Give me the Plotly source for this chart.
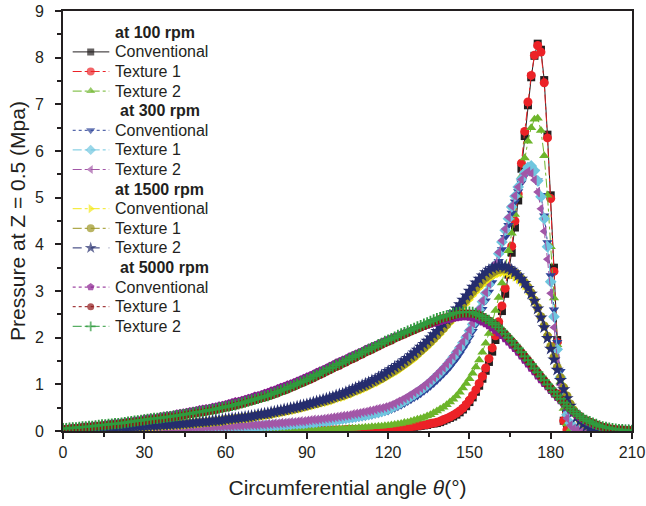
import plotly.graph_objects as go

# ---------------- data ----------------
angle = [round(1.2 * i, 1) for i in range(176)]  # circumferential angle grid (deg)

speed_labels = ["at 100 rpm", "at 300 rpm", "at 1500 rpm", "at 5000 rpm"]
surface_labels = ["Conventional", "Texture 1", "Texture 2"]

p100_conv = [0,0,0,0,0,0,0,0,0,0,0,0,0,0,0,0,0,0,0,0,0,0,0,0,0,
             0,0,0,0,0,0,0,0,0,0,0,0,0,0,0,0,0,0,0,0,0,0,0,0,0,
             0,0,0,0,0,0,0,0,0,0,0,0,0,0,0,0,0,0,0,0,.01,.01,.01,.01,.01,
             .01,.01,.01,.01,.01,.01,.02,.02,.02,.02,.02,.02,.02,.03,.03,.03,.03,.03,.03,.04,.04,.04,.04,.04,.05,
             .05,.05,.06,.06,.07,.07,.08,.09,.09,.10,.11,.12,.13,.15,.16,.17,.19,.22,.25,.28,.31,.35,.40,.46,.53,
             .62,.72,.84,.97,1.12,1.29,1.48,1.70,1.95,2.24,2.57,2.94,3.35,3.82,4.36,4.94,5.62,6.32,6.98,7.58,8.04,8.30,8.17,7.52,6.35,
             5.05,3.50,1.95,.80,.22,.03,0,0,0,0,0,0,0,0,0,0,0,0,0,0,0,0,0,0,0,0]
p100_tex1 = [0,0,0,0,0,0,0,0,0,0,0,0,0,0,0,0,0,0,0,0,0,0,0,0,0,
             0,0,0,0,0,0,0,0,0,0,0,0,0,0,0,0,0,0,0,0,0,0,0,0,0,
             0,0,0,0,0,0,0,0,0,0,0,0,0,0,0,0,0,0,0,.01,.01,.01,.01,.01,.01,
             .01,.01,.01,.01,.01,.02,.02,.02,.02,.02,.02,.02,.03,.03,.03,.03,.03,.04,.04,.04,.04,.05,.05,.05,.05,
             .06,.06,.06,.07,.07,.08,.09,.09,.10,.11,.12,.13,.14,.16,.17,.19,.21,.24,.27,.30,.34,.38,.43,.49,.57,
             .66,.76,.88,1.02,1.17,1.35,1.55,1.78,2.04,2.34,2.68,3.06,3.48,3.96,4.50,5.08,5.74,6.42,7.05,7.62,8.05,8.26,8.12,7.46,6.28,
             4.98,3.42,1.90,.78,.22,.03,0,0,0,0,0,0,0,0,0,0,0,0,0,0,0,0,0,0,0,0]
p100_tex2 = [0,0,0,0,0,0,0,0,0,0,0,0,0,0,0,0,0,0,0,0,0,0,0,0,0,
             0,0,0,0,0,0,0,0,0,0,0,0,0,0,0,0,0,0,0,0,.01,.01,.01,.01,.01,
             .01,.01,.01,.01,.01,.01,.01,.01,.01,.01,.01,.01,.01,.01,.01,.02,.02,.02,.02,.02,.02,.02,.02,.02,.02,
             .02,.02,.03,.03,.03,.03,.04,.04,.04,.04,.05,.05,.05,.06,.06,.06,.07,.07,.08,.08,.09,.09,.10,.10,.11,
             .12,.13,.14,.15,.16,.18,.19,.21,.23,.25,.27,.29,.32,.35,.39,.43,.47,.51,.56,.62,.68,.75,.83,.92,1.02,
             1.12,1.24,1.37,1.52,1.69,1.88,2.09,2.32,2.58,2.86,3.17,3.50,3.86,4.24,4.64,5.05,5.46,5.85,6.21,6.50,6.68,6.70,6.44,5.90,5.05,
             3.95,2.85,1.85,1.05,.48,.15,.03,0,0,0,0,0,0,0,0,0,0,0,0,0,0,0,0,0,0,0]

p300_conv = [.01,.01,.01,.01,.01,.01,.01,.01,.01,.01,.01,.01,.01,.01,.01,.02,.02,.02,.02,.02,.02,.02,.02,.02,.02,
             .02,.02,.03,.03,.03,.03,.03,.03,.03,.03,.04,.04,.04,.04,.04,.04,.04,.05,.05,.05,.05,.05,.05,.06,.06,
             .06,.06,.07,.07,.07,.07,.08,.08,.08,.08,.09,.09,.09,.10,.10,.11,.11,.11,.12,.12,.13,.13,.14,.14,.15,
             .15,.16,.17,.17,.18,.19,.19,.20,.21,.22,.23,.24,.25,.26,.27,.28,.29,.30,.31,.33,.34,.36,.37,.39,.41,
             .43,.46,.49,.52,.55,.59,.63,.67,.71,.75,.80,.85,.90,.96,1.02,1.08,1.15,1.22,1.29,1.37,1.46,1.55,1.65,1.76,1.87,
             2.00,2.14,2.28,2.44,2.61,2.79,2.98,3.18,3.40,3.64,3.89,4.15,4.41,4.67,4.91,5.13,5.32,5.47,5.58,5.62,5.55,5.36,5.05,4.61,4.04,
             3.33,2.60,1.90,1.28,.78,.41,.19,.08,.03,.01,0,0,0,0,0,0,0,0,0,0,0,0,0,0,0,0]
p300_tex1 = [.01,.01,.01,.01,.01,.01,.01,.01,.01,.01,.02,.02,.02,.02,.02,.02,.02,.02,.02,.02,.02,.03,.03,.03,.03,
             .03,.03,.03,.03,.03,.04,.04,.04,.04,.04,.04,.04,.05,.05,.05,.05,.05,.06,.06,.06,.06,.06,.07,.07,.07,
             .07,.07,.08,.08,.08,.08,.09,.09,.09,.09,.10,.10,.11,.11,.11,.12,.12,.13,.13,.14,.14,.15,.15,.16,.16,
             .17,.18,.18,.19,.20,.21,.21,.22,.23,.24,.25,.26,.27,.28,.29,.30,.32,.33,.34,.35,.37,.39,.40,.42,.44,
             .47,.50,.54,.57,.61,.65,.69,.74,.78,.83,.88,.93,.99,1.05,1.12,1.18,1.25,1.33,1.40,1.49,1.58,1.68,1.78,1.89,2.01,
             2.15,2.29,2.44,2.60,2.77,2.95,3.14,3.34,3.56,3.80,4.05,4.30,4.55,4.80,5.03,5.23,5.40,5.54,5.65,5.68,5.58,5.36,5.02,4.55,3.95,
             3.20,2.45,1.75,1.15,.68,.35,.17,.08,.04,.02,.01,0,0,0,0,0,0,0,0,0,0,0,0,0,0,0]
p300_tex2 = [.01,.01,.01,.01,.01,.01,.01,.02,.02,.02,.02,.02,.02,.02,.02,.02,.03,.03,.03,.03,.03,.03,.03,.03,.04,
             .04,.04,.04,.04,.04,.05,.05,.05,.05,.05,.06,.06,.06,.06,.06,.07,.07,.07,.07,.08,.08,.08,.09,.09,.09,
             .10,.10,.10,.11,.11,.11,.12,.12,.13,.13,.13,.14,.14,.15,.15,.16,.16,.17,.17,.18,.19,.19,.20,.21,.21,
             .22,.23,.24,.24,.25,.26,.27,.28,.29,.30,.31,.32,.33,.34,.36,.37,.38,.40,.41,.43,.44,.46,.48,.49,.51,
             .53,.56,.59,.63,.66,.70,.74,.78,.83,.87,.92,.97,1.03,1.09,1.15,1.22,1.29,1.36,1.44,1.52,1.61,1.71,1.81,1.92,2.04,
             2.17,2.31,2.46,2.62,2.79,2.97,3.16,3.37,3.59,3.83,4.08,4.33,4.58,4.82,5.04,5.23,5.39,5.51,5.56,5.52,5.38,5.12,4.76,4.28,3.68,
             2.95,2.22,1.55,.99,.56,.27,.12,.05,.02,.01,0,0,0,0,0,0,0,0,0,0,0,0,0,0,0,0]

p1500_conv = [.02,.02,.02,.03,.03,.03,.03,.04,.04,.04,.04,.05,.05,.05,.06,.06,.06,.07,.07,.07,.07,.08,.08,.08,.09,
              .09,.10,.10,.10,.11,.11,.11,.12,.12,.13,.13,.13,.14,.14,.15,.16,.16,.17,.17,.18,.19,.19,.20,.21,.21,
              .23,.23,.24,.25,.26,.27,.27,.28,.29,.30,.32,.32,.33,.34,.35,.37,.38,.39,.41,.42,.44,.45,.47,.48,.50,
              .52,.54,.55,.57,.59,.61,.62,.64,.66,.69,.71,.73,.75,.78,.80,.84,.86,.89,.92,.95,.99,1.02,1.05,1.09,1.13,
              1.17,1.21,1.25,1.29,1.34,1.39,1.44,1.49,1.54,1.60,1.67,1.73,1.79,1.86,1.93,2.00,2.07,2.15,2.23,2.31,2.38,2.47,2.55,2.64,2.72,
              2.81,2.90,2.98,3.06,3.13,3.20,3.26,3.31,3.35,3.38,3.40,3.40,3.38,3.35,3.31,3.26,3.20,3.12,3.02,2.92,2.79,2.63,2.47,2.27,2.06,
              1.83,1.60,1.38,1.16,.95,.77,.60,.47,.35,.25,.18,.13,.09,.06,.04,.02,.01,.01,0,0,0,0,0,0,0,0]
p1500_tex1 = [.02,.02,.03,.03,.03,.04,.04,.04,.04,.05,.05,.05,.06,.06,.06,.06,.07,.07,.07,.08,.08,.08,.09,.09,.09,
              .10,.10,.11,.11,.11,.12,.12,.13,.13,.13,.14,.14,.15,.15,.16,.16,.17,.17,.18,.18,.19,.20,.20,.21,.22,
              .24,.24,.25,.26,.27,.28,.28,.29,.30,.31,.33,.34,.35,.36,.37,.39,.40,.41,.43,.44,.46,.47,.49,.50,.52,
              .54,.56,.58,.59,.61,.63,.65,.67,.69,.72,.74,.76,.79,.81,.84,.87,.90,.93,.96,.99,1.03,1.06,1.10,1.13,1.17,
              1.22,1.26,1.30,1.35,1.39,1.44,1.49,1.55,1.60,1.66,1.72,1.78,1.85,1.91,1.98,2.05,2.13,2.20,2.28,2.37,2.46,2.54,2.63,2.72,2.81,
              2.90,2.99,3.07,3.15,3.23,3.29,3.34,3.39,3.43,3.46,3.47,3.47,3.46,3.43,3.39,3.33,3.26,3.18,3.08,2.96,2.80,2.64,2.45,2.25,2.03,
              1.81,1.58,1.36,1.14,.93,.75,.58,.45,.34,.24,.17,.12,.08,.05,.03,.02,.01,.01,0,0,0,0,0,0,0,0]
p1500_tex2 = [.03,.03,.03,.04,.04,.04,.04,.05,.05,.05,.05,.06,.06,.06,.07,.07,.07,.08,.08,.08,.09,.09,.09,.10,.10,
              .11,.11,.12,.12,.12,.13,.13,.14,.14,.15,.15,.16,.16,.17,.17,.18,.19,.19,.20,.20,.21,.22,.23,.23,.24,
              .25,.26,.27,.27,.28,.29,.30,.31,.32,.33,.35,.36,.37,.38,.40,.41,.43,.44,.46,.47,.49,.50,.52,.54,.55,
              .57,.59,.61,.63,.65,.67,.69,.71,.73,.76,.78,.80,.83,.86,.89,.92,.95,.98,1.01,1.04,1.08,1.11,1.15,1.19,1.23,
              1.28,1.32,1.37,1.41,1.46,1.51,1.56,1.62,1.68,1.74,1.80,1.86,1.93,2.00,2.07,2.14,2.22,2.30,2.38,2.46,2.54,2.62,2.71,2.81,2.90,
              3.00,3.09,3.18,3.26,3.33,3.40,3.45,3.49,3.52,3.54,3.54,3.52,3.49,3.45,3.40,3.33,3.26,3.17,3.06,2.94,2.79,2.62,2.43,2.22,1.99,
              1.76,1.53,1.31,1.09,.89,.70,.54,.41,.30,.21,.15,.10,.07,.05,.03,.02,.01,.01,0,0,0,0,0,0,0,0]

p5000_conv = [.05,.05,.06,.07,.07,.08,.09,.10,.10,.11,.12,.12,.13,.14,.15,.16,.17,.17,.18,.19,.20,.21,.22,.23,.24,
              .26,.27,.28,.28,.29,.31,.32,.33,.34,.35,.37,.38,.39,.40,.42,.43,.44,.46,.47,.48,.49,.51,.52,.54,.55,
              .57,.59,.61,.63,.64,.66,.68,.70,.72,.75,.76,.78,.81,.83,.86,.88,.91,.94,.96,.99,1.01,1.04,1.07,1.10,1.13,
              1.16,1.19,1.22,1.26,1.29,1.32,1.35,1.39,1.42,1.46,1.49,1.52,1.55,1.59,1.62,1.65,1.68,1.71,1.75,1.78,1.81,1.84,1.87,1.90,1.93,
              1.96,1.99,2.02,2.04,2.07,2.10,2.12,2.15,2.17,2.20,2.22,2.24,2.27,2.29,2.31,2.33,2.35,2.37,2.39,2.40,2.42,2.43,2.44,2.45,2.45,
              2.44,2.43,2.41,2.38,2.34,2.30,2.26,2.21,2.16,2.11,2.05,1.98,1.91,1.84,1.77,1.69,1.61,1.52,1.44,1.35,1.27,1.18,1.10,1.02,.95,
              .87,.79,.72,.65,.58,.51,.45,.39,.34,.29,.25,.21,.18,.15,.12,.10,.08,.07,.05,.04,.03,.03,.02,.02,.01,.01]
p5000_tex1 = [.04,.04,.05,.06,.06,.07,.08,.08,.09,.09,.10,.11,.12,.12,.13,.14,.14,.15,.16,.17,.18,.19,.19,.20,.21,
              .22,.23,.24,.25,.26,.27,.28,.29,.30,.30,.31,.32,.33,.35,.36,.37,.38,.39,.40,.41,.43,.44,.45,.47,.48,
              .50,.51,.53,.54,.56,.58,.60,.62,.64,.66,.68,.70,.72,.74,.76,.79,.81,.84,.86,.89,.92,.95,.98,1.01,1.04,
              1.07,1.10,1.13,1.17,1.20,1.23,1.27,1.30,1.34,1.37,1.40,1.44,1.47,1.51,1.54,1.57,1.61,1.64,1.68,1.71,1.74,1.78,1.81,1.85,1.88,
              1.91,1.94,1.98,2.01,2.04,2.07,2.10,2.13,2.16,2.19,2.22,2.25,2.28,2.31,2.34,2.37,2.40,2.42,2.44,2.46,2.48,2.50,2.51,2.52,2.52,
              2.52,2.51,2.50,2.48,2.45,2.41,2.37,2.32,2.28,2.22,2.15,2.08,2.00,1.93,1.85,1.77,1.69,1.60,1.52,1.43,1.34,1.26,1.17,1.09,1.00,
              .92,.84,.76,.69,.61,.54,.48,.42,.37,.32,.27,.23,.20,.17,.14,.11,.09,.08,.06,.05,.04,.03,.03,.02,.02,.01]
p5000_tex2 = [.05,.05,.06,.07,.07,.08,.09,.09,.10,.10,.11,.12,.13,.13,.14,.15,.16,.16,.17,.18,.19,.20,.21,.22,.23,
              .24,.25,.26,.27,.27,.28,.29,.30,.31,.32,.33,.34,.35,.36,.37,.39,.40,.41,.42,.43,.45,.46,.47,.49,.50,
              .52,.53,.55,.56,.58,.60,.62,.64,.66,.68,.70,.72,.74,.76,.79,.81,.84,.87,.89,.92,.95,.98,1.01,1.04,1.07,
              1.10,1.13,1.17,1.20,1.24,1.27,1.30,1.34,1.37,1.41,1.44,1.47,1.51,1.54,1.58,1.61,1.64,1.68,1.71,1.75,1.78,1.81,1.85,1.88,1.92,
              1.95,1.98,2.01,2.05,2.08,2.11,2.14,2.17,2.20,2.23,2.26,2.29,2.32,2.35,2.38,2.41,2.43,2.45,2.47,2.49,2.52,2.53,2.54,2.55,2.55,
              2.55,2.54,2.51,2.48,2.45,2.41,2.37,2.32,2.28,2.22,2.15,2.08,2.00,1.93,1.85,1.77,1.69,1.60,1.52,1.43,1.34,1.26,1.17,1.09,1.00,
              .92,.84,.76,.69,.61,.54,.48,.42,.37,.32,.27,.23,.20,.17,.14,.11,.09,.08,.06,.05,.04,.03,.03,.02,.02,.01]

x_ticks = [0, 30, 60, 90, 120, 150, 180, 210]
y_ticks = [0, 1, 2, 3, 4, 5, 6, 7, 8, 9]

# ---------------- styles ----------------
FONT = "Liberation Sans, Arial, Helvetica, sans-serif"
INK = "#231f20"

groups = [
    (speed_labels[0], [
        (surface_labels[0], p100_conv, "#231f20", "square", "solid", 8),
        (surface_labels[1], p100_tex1, "#ec2227", "circle", "dashdot", 9),
        (surface_labels[2], p100_tex2, "#6db52b", "triangle-up", "dashdot", 9),
    ]),
    (speed_labels[1], [
        (surface_labels[0], p300_conv, "#2e4498", "triangle-down", "dot", 9),
        (surface_labels[1], p300_tex1, "#6fc6df", "diamond", "dashdot", 9),
        (surface_labels[2], p300_tex2, "#a257a7", "triangle-left", "dashdot", 9),
    ]),
    (speed_labels[2], [
        (surface_labels[0], p1500_conv, "#f3e81b", "triangle-right", "dashdot", 9),
        (surface_labels[1], p1500_tex1, "#9b9421", "circle", "dashdot", 9),
        (surface_labels[2], p1500_tex2, "#252d6e", "star", "dash", 10),
    ]),
    (speed_labels[3], [
        (surface_labels[0], p5000_conv, "#871a8d", "pentagon", "dot", 9),
        (surface_labels[1], p5000_tex1, "#8f1214", "circle", "dot", 8),
        (surface_labels[2], p5000_tex2, "#2f9b3e", "cross-thin", "dashdot", 8),
    ]),
]

for _, items in groups:
    for _, vals, *_ in items:
        assert len(vals) == len(angle), len(vals)


def marker_for(sym, size, color):
    m = dict(symbol=sym, size=size, color=color, line=dict(width=0))
    if sym == "cross-thin":
        m["line"] = dict(width=1.8, color=color)
    return m


fig = go.Figure()

for _, items in groups:
    for name, vals, color, sym, dash, size in items:
        fig.add_trace(go.Scatter(
            x=angle, y=vals, mode="lines+markers", name=name,
            line=dict(color=color, width=1, dash=dash),
            marker=marker_for(sym, size, color),
            showlegend=False, hoverinfo="skip"))

# ---------------- hand-built legend on an invisible helper axis ----------------
row_top, row_step = 21.3, 19.6
title_x = [50.3, 55.0, 50.3, 55.0]
line_x = [9.7, 27.7, 46.3]
text_x = 50.3
row = 0
for gi, (title, items) in enumerate(groups):
    yy = row_top + row_step * row
    fig.add_annotation(x=title_x[gi], y=yy, xref="x2", yref="y2", text="<b>" + title + "</b>",
                       showarrow=False, xanchor="left", yanchor="middle",
                       font=dict(family=FONT, size=16, color=INK))
    row += 1
    for name, vals, color, sym, dash, size in items:
        yy = row_top + row_step * row
        m = marker_for(sym, size - 1, color)
        m["size"] = [0, size - 1, 0]
        fig.add_trace(go.Scatter(
            x=line_x, y=[yy, yy, yy], xaxis="x2", yaxis="y2", mode="lines+markers",
            line=dict(color=color, width=1, dash=dash), marker=m,
            showlegend=False, hoverinfo="skip"))
        fig.add_annotation(x=text_x, y=yy, xref="x2", yref="y2", text=name,
                           showarrow=False, xanchor="left", yanchor="middle",
                           font=dict(family=FONT, size=16, color=INK))
        row += 1

axis_common = dict(
    showline=True, linecolor=INK, linewidth=1.6, mirror=True,
    ticks="outside", ticklen=6, tickwidth=1.6, tickcolor=INK,
    showgrid=False, zeroline=False, automargin=False,
    tickfont=dict(family=FONT, size=16, color=INK),
)

fig.update_layout(
    width=646, height=506,
    margin=dict(l=63, r=14, t=11, b=75, pad=0, autoexpand=False),
    paper_bgcolor="white", plot_bgcolor="rgba(0,0,0,0)",
    font=dict(family=FONT, size=16, color=INK),
    showlegend=False,
    xaxis=dict(axis_common, range=[0, 210], tickvals=x_ticks,
               minor=dict(ticks="outside", ticklen=4, tickwidth=1.6, tickcolor=INK, dtick=15, tick0=0),
               title=dict(text="Circumferential angle <i>θ</i>(°)",
                          font=dict(family=FONT, size=21, color=INK), standoff=20)),
    yaxis=dict(axis_common, range=[0, 9], tickvals=y_ticks, ticklabelstandoff=8,
               minor=dict(ticks="outside", ticklen=4, tickwidth=1.6, tickcolor=INK, dtick=0.5, tick0=0),
               title=dict(text="Pressure at Z = 0.5 (Mpa)",
                          font=dict(family=FONT, size=21, color=INK), standoff=4)),
    xaxis2=dict(domain=[0, 0.2], anchor="y2", range=[0, 113.8], visible=False, fixedrange=True),
    yaxis2=dict(domain=[0, 1], anchor="x2", range=[420, 0], visible=False, fixedrange=True),
)

# the page body has a default 8px margin; remove it so the figure sits at the window origin
fig.write_html("out.html", config={"displayModeBar": False},
               post_script="document.body.style.margin='0';")
